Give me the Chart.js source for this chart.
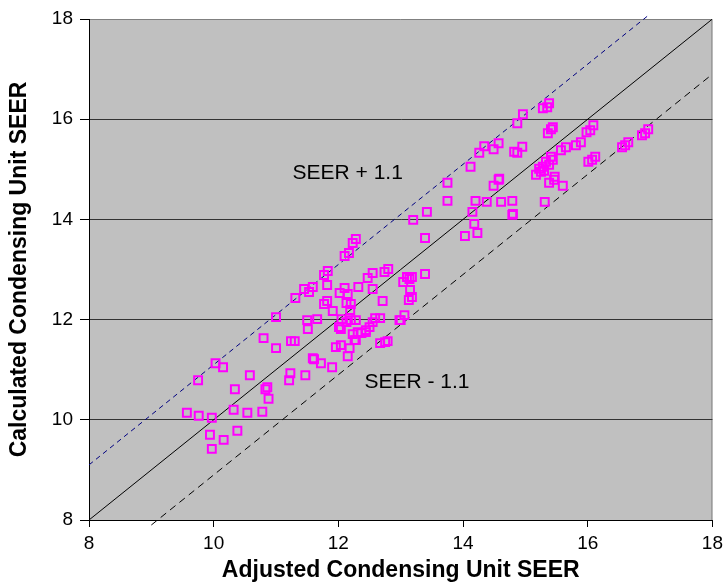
<!DOCTYPE html>
<html>
<head>
<meta charset="utf-8">
<title>Condensing Unit SEER</title>
<script src="https://cdn.jsdelivr.net/npm/chart.js@4.4.1/dist/chart.umd.min.js"></script>
<style>
  html, body { margin: 0; padding: 0; background: #ffffff; }
  #chartCanvas { display: block; }
</style>
</head>
<body>
<canvas id="chartCanvas" width="728" height="587"></canvas>
<script>
// Adjusted vs calculated SEER for each condensing unit
const seerAdjusted = [
    9.57, 9.76, 9.97, 9.94, 9.97, 10.16, 10.38, 10.32, 10.54, 10.78,
    10.34, 10.58, 10.83, 10.86, 10.88, 9.75, 10.03, 10.15, 10.80, 11.00,
    11.24, 11.30, 11.00, 11.23, 11.21, 11.47, 11.61, 11.72, 11.90, 11.31,
    11.45, 11.53, 11.59, 11.77, 11.83, 11.82, 12.10, 12.17, 12.23, 12.28,
    11.50, 11.66, 11.51, 11.82, 11.77, 11.91, 12.02, 12.10, 12.15, 12.32,
    12.13, 12.20, 12.19, 12.47, 12.55, 12.74, 12.80, 12.55, 12.71, 12.05,
    12.13, 12.20, 12.28, 12.01, 12.04, 12.23, 12.31, 12.28, 12.44, 12.50,
    12.55, 12.59, 12.67, 12.98, 11.96, 12.04, 12.18, 12.15, 12.67, 12.75,
    12.79, 13.39, 13.10, 13.18, 13.04, 13.15, 13.18, 13.13, 13.06, 13.00,
    13.14, 13.75, 13.75, 13.42, 13.20, 13.39, 14.57, 14.49, 14.20, 14.38,
    14.61, 14.79, 14.15, 14.18, 14.03, 14.23, 14.79, 14.12, 14.26, 14.34,
    14.49, 14.57, 14.82, 14.58, 14.87, 14.96, 15.28, 15.35, 15.38, 15.36,
    15.41, 15.44, 14.95, 14.87, 15.17, 15.25, 15.30, 15.38, 15.46, 15.47,
    15.60, 15.31, 15.22, 15.28, 15.33, 15.38, 15.41, 15.44, 15.57, 15.65,
    15.81, 15.89, 15.98, 16.04, 16.09, 16.01, 16.07, 16.12, 16.55, 16.60,
    16.65, 16.87, 16.92, 16.97, 14.80, 12.44, 12.37, 11.59, 12.26
];
const seerCalculated = [
    10.14, 10.08, 10.04, 9.70, 9.42, 9.60, 9.78, 10.20, 10.14, 10.16,
    10.61, 10.89, 10.61, 10.65, 10.42, 10.79, 11.13, 11.05, 11.63, 11.43,
    11.57, 11.57, 12.05, 10.93, 10.79, 10.89, 11.21, 11.13, 11.05, 12.43,
    12.61, 12.55, 12.65, 12.89, 12.97, 12.69, 13.27, 13.33, 13.53, 13.61,
    11.99, 12.01, 11.81, 12.37, 12.31, 12.17, 12.53, 12.63, 12.51, 12.65,
    12.33, 12.31, 12.19, 12.83, 12.93, 12.95, 13.01, 12.61, 12.37, 12.01,
    11.95, 11.99, 11.99, 11.85, 11.81, 11.71, 11.75, 11.59, 11.79, 11.85,
    11.95, 12.03, 12.03, 11.99, 11.45, 11.49, 11.43, 11.27, 11.53, 11.55,
    11.57, 12.91, 12.85, 12.85, 12.75, 12.59, 12.45, 12.39, 12.09, 11.99,
    12.81, 14.73, 14.37, 14.15, 13.99, 13.63, 14.79, 14.67, 14.37, 14.35,
    14.35, 14.37, 14.15, 13.91, 13.67, 13.73, 14.09, 15.05, 15.33, 15.46,
    15.40, 15.52, 15.35, 14.81, 15.92, 16.10, 16.22, 16.24, 16.32, 15.72,
    15.80, 15.84, 15.45, 15.33, 14.89, 14.95, 14.97, 14.73, 14.79, 14.85,
    14.67, 14.35, 15.01, 15.05, 15.15, 15.09, 15.25, 15.19, 15.38, 15.44,
    15.48, 15.54, 15.74, 15.78, 15.88, 15.15, 15.19, 15.25, 15.44, 15.48,
    15.54, 15.68, 15.72, 15.80, 14.11, 11.75, 11.73, 11.23, 11.59
];

// 1:1 line and the +/- 1.1 SEER band
const equalityX = [8, 18];
const equalityY = [8, 18];
const upperBandX = [8, 17];
const upperBandY = [9.1, 18.1];
const lowerBandX = [9, 18];
const lowerBandY = [7.9, 16.9];

const bandLabels = ['SEER + 1.1', 'SEER - 1.1'];
const bandLabelX = [12.15, 13.26];
const bandLabelY = [14.93, 10.75];

const axisTicks = [8, 10, 12, 14, 16, 18];

const FONT = "'Liberation Sans', Arial, sans-serif";

function toPoints(xs, ys) {
    return xs.map((x, i) => ({ x: x, y: ys[i] }));
}

// grey plot area, grey top/right frame and the band captions
const plotFrame = {
    id: 'plotFrame',
    beforeDraw(chart) {
        const { ctx, chartArea: a } = chart;
        ctx.save();
        ctx.fillStyle = '#c0c0c0';
        ctx.fillRect(a.left, a.top, a.right - a.left, a.bottom - a.top);
        ctx.strokeStyle = '#808080';
        ctx.lineWidth = 1;
        ctx.beginPath();
        ctx.moveTo(a.left, a.top + 0.5);
        ctx.lineTo(a.right - 0.5, a.top + 0.5);
        ctx.lineTo(a.right - 0.5, a.bottom);
        ctx.stroke();
        ctx.restore();
    },
    afterDatasetsDraw(chart) {
        const { ctx } = chart;
        const xScale = chart.scales.x;
        const yScale = chart.scales.y;
        ctx.save();
        ctx.fillStyle = '#000000';
        ctx.font = '21px ' + FONT;
        ctx.textAlign = 'center';
        ctx.textBaseline = 'middle';
        bandLabels.forEach((text, i) => {
            ctx.fillText(text, xScale.getPixelForValue(bandLabelX[i]), yScale.getPixelForValue(bandLabelY[i]));
        });
        ctx.restore();
    }
};

const ctx = document.getElementById('chartCanvas').getContext('2d');
new Chart(ctx, {
    type: 'scatter',
    data: {
        datasets: [
            {
                label: 'Units',
                data: toPoints(seerAdjusted, seerCalculated),
                showLine: false,
                pointStyle: 'rect',
                pointRadius: 5.6,
                pointBorderWidth: 2,
                borderColor: '#ff00ff',
                backgroundColor: 'rgba(0,0,0,0)',
                order: 0
            },
            {
                label: 'SEER',
                data: toPoints(equalityX, equalityY),
                showLine: true,
                borderColor: '#000000',
                borderWidth: 1,
                pointRadius: 0,
                order: 1
            },
            {
                label: 'SEER + 1.1',
                data: toPoints(upperBandX, upperBandY),
                showLine: true,
                borderColor: '#000080',
                borderWidth: 1,
                borderDash: [5, 4],
                pointRadius: 0,
                clip: false,
                order: 1
            },
            {
                label: 'SEER - 1.1',
                data: toPoints(lowerBandX, lowerBandY),
                showLine: true,
                borderColor: '#000000',
                borderWidth: 1,
                borderDash: [7, 5],
                pointRadius: 0,
                clip: false,
                order: 1
            }
        ]
    },
    options: {
        responsive: false,
        animation: false,
        devicePixelRatio: 1,
        layout: { padding: { top: 19, right: 10, left: 0, bottom: 0 } },
        plugins: {
            legend: { display: false },
            tooltip: { enabled: false }
        },
        scales: {
            x: {
                type: 'linear',
                min: 8,
                max: 18,
                afterFit(scale) { scale.height = 67; },
                afterBuildTicks(scale) { scale.ticks = axisTicks.map(v => ({ value: v })); },
                border: { display: true, color: '#000000', width: 1 },
                grid: {
                    drawOnChartArea: false,
                    drawTicks: true,
                    tickLength: 7,
                    tickColor: '#000000'
                },
                ticks: {
                    color: '#000000',
                    padding: 5,
                    maxRotation: 0,
                    font: { family: FONT, size: 19 }
                },
                title: {
                    display: true,
                    text: 'Adjusted Condensing Unit SEER',
                    color: '#000000',
                    padding: { top: 0, bottom: 3 },
                    font: { family: FONT, size: 23, weight: 'bold' }
                }
            },
            y: {
                type: 'linear',
                min: 8,
                max: 18,
                afterFit(scale) { scale.width = 89; },
                afterBuildTicks(scale) { scale.ticks = axisTicks.map(v => ({ value: v })); },
                border: { display: true, color: '#000000', width: 1 },
                grid: {
                    drawOnChartArea: true,
                    drawTicks: true,
                    tickLength: 9,
                    tickColor: '#000000',
                    color: (c) => (c.tick && c.tick.value === 18 ? 'rgba(0,0,0,0)' : '#333333'),
                    lineWidth: 1
                },
                ticks: {
                    color: '#000000',
                    padding: 7,
                    font: { family: FONT, size: 19 }
                },
                title: {
                    display: true,
                    text: 'Calculated Condensing Unit SEER',
                    color: '#000000',
                    padding: { top: 6, bottom: 0 },
                    font: { family: FONT, size: 23, weight: 'bold' }
                }
            }
        }
    },
    plugins: [plotFrame]
});
</script>
</body>
</html>
